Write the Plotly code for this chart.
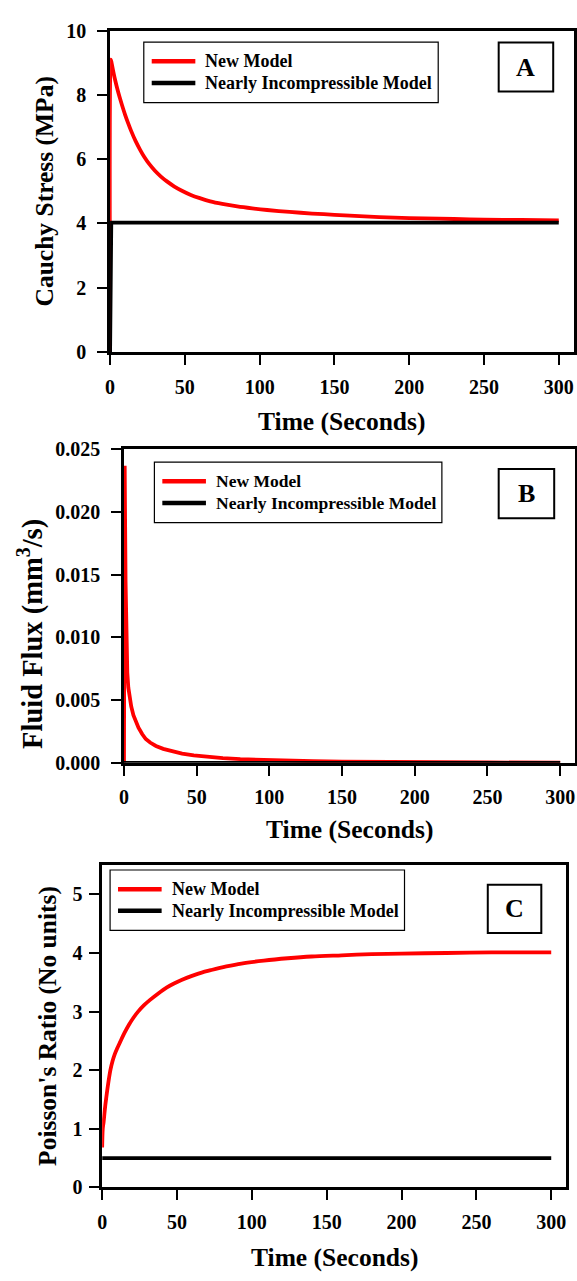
import plotly.graph_objects as go

# ---------------- data ----------------
time_a_new = [0, 0.5, 1, 1.5, 2.5, 3.5, 5, 6.5, 8, 10, 12, 14, 17, 20, 23, 26, 30, 34, 38, 43, 48, 54, 60,
              67, 75, 85, 95, 105, 120, 135, 150, 170, 190, 210, 230, 250, 275, 300]
stress_new = [0, 9.1, 9.0, 8.88, 8.65, 8.44, 8.16, 7.91, 7.68, 7.39, 7.13, 6.89, 6.57, 6.3, 6.06, 5.86, 5.64,
              5.46, 5.31, 5.15, 5.02, 4.89, 4.79, 4.69, 4.61, 4.53, 4.47, 4.42, 4.36, 4.31, 4.27, 4.22, 4.18,
              4.16, 4.14, 4.12, 4.11, 4.1]
time_a_ni = [0, 0.8, 300]
stress_ni = [0, 4.03, 4.03]

time_b_new = [0, 0.5, 0.8, 1.1, 1.4, 1.8, 2.3, 3, 4, 5, 6.5, 8, 10, 12.5, 15, 18, 22, 27, 33, 40, 48, 57, 68,
              80, 95, 110, 130, 150, 175, 200, 250, 300]
flux_new = [0, 0.0237, 0.019, 0.0145, 0.0112, 0.0088, 0.0072, 0.006, 0.0051, 0.0045, 0.0038, 0.0033, 0.0028,
            0.0023, 0.0019, 0.00162, 0.00135, 0.00112, 0.00092, 0.00074, 0.00059, 0.00047, 0.00037, 0.00029,
            0.00022, 0.00017, 0.00013, 0.0001, 0.00007, 0.00005, 0.00003, 0.00002]
time_b_ni = [0, 300]
flux_ni = [0, 0]

time_c_new = [0, 0.4, 1, 1.8, 2.7, 3.8, 5.5, 7, 8.5, 10, 12, 15, 18, 21, 24, 28, 32, 37.5, 43, 48, 53, 60, 67,
              73, 83, 93, 108, 124, 140, 160, 180, 200, 230, 260, 300]
poisson_new = [0.68, 1.0, 1.12, 1.33, 1.52, 1.73, 2.0, 2.16, 2.28, 2.37, 2.48, 2.64, 2.78, 2.9, 3.0, 3.11, 3.2,
               3.31, 3.41, 3.48, 3.54, 3.61, 3.67, 3.71, 3.77, 3.82, 3.87, 3.91, 3.94, 3.96, 3.98, 3.99, 4.0,
               4.01, 4.01]
time_c_ni = [0, 300]
poisson_ni = [0.5, 0.5]

series_names = ["New Model", "Nearly Incompressible Model"]
series_colors = ["#ff0000", "#000000"]
x_ticks = [0, 50, 100, 150, 200, 250, 300]
y_ticks_a = [0, 2, 4, 6, 8, 10]
y_ticks_b = [0, 0.005, 0.010, 0.015, 0.020, 0.025]
y_ticks_c = [0, 1, 2, 3, 4, 5]
panel_letters = ["A", "B", "C"]
x_title = "Time (Seconds)"
y_titles = ["Cauchy Stress (MPa)", "Fluid Flux (mm<sup>3</sup>/s)", "Poisson's Ratio (No units)"]

# ---------------- layout helpers ----------------
W, H = 577, 1281
FONT = "Liberation Serif"


def fx(x):
    return x / W


def fy(y):
    return 1 - y / H


def bold(vals, fmt):
    return ["<b>" + format(v, fmt) + "</b>" for v in vals]


fig = go.Figure()

panels = [
    dict(new=(time_a_new, stress_new), ni=(time_a_ni, stress_ni), l=106, r=573.7, t=20, b=347,
         yr=[0, 10], yt=y_ticks_a, fmt="g", stand=7, leg=(140, 31.7, 297, 18), box=(498, 32, 553, 82),
         ytx=39.5, yty=183.5, ytfs=25.5, xt_y=418, xstand=5, shape="spline"),
    dict(new=(time_b_new, flux_new), ni=(time_b_ni, flux_ni), l=120, r=574.7, t=446, b=765,
         yr=[0, 0.025], yt=y_ticks_b, fmt=".3f", stand=7, leg=(150.7, 459, 290, 17.5),
         box=(498, 466, 554, 516), ytx=25, yty=634, ytfs=28.5, xt_y=833, xstand=4, shape="linear"),
    dict(new=(time_c_new, poisson_new), ni=(time_c_ni, poisson_ni), l=98, r=566.1, t=869, b=1197,
         yr=[0, 5.5], yt=y_ticks_c, fmt="g", stand=3, leg=(106, 874, 297, 18), box=(487, 889, 541, 938),
         ytx=43, yty=1033, ytfs=25.5, xt_y=1268, xstand=5, shape="spline"),
]

shapes = []
annotations = []
for i, p in enumerate(panels):
    xa = "x" if i == 0 else f"x{i+1}"
    ya = "y" if i == 0 else f"y{i+1}"
    xkey = "xaxis" if i == 0 else f"xaxis{i+1}"
    ykey = "yaxis" if i == 0 else f"yaxis{i+1}"
    fig.add_trace(go.Scatter(x=p["new"][0], y=p["new"][1], mode="lines", name=series_names[0],
                             line=dict(color=series_colors[0], width=3.8, shape=p["shape"], smoothing=0.8),
                             xaxis=xa, yaxis=ya, showlegend=False))
    fig.add_trace(go.Scatter(x=p["ni"][0], y=p["ni"][1], mode="lines", name=series_names[1],
                             line=dict(color=series_colors[1], width=3.8), xaxis=xa, yaxis=ya,
                             showlegend=False))
    common = dict(showline=True, linecolor="black", linewidth=2.5, mirror=True, ticks="outside",
                  ticklen=10, tickwidth=2, tickcolor="black", showgrid=False, zeroline=False,
                  tickfont=dict(family=FONT, size=20, color="black", weight=700))
    fig.update_layout(**{
        xkey: dict(common, domain=[fx(p["l"]), fx(p["r"])], range=[0, 310], tickvals=x_ticks,
                   ticktext=bold(x_ticks, "g"), anchor=ya, ticklabelstandoff=p["xstand"]),
        ykey: dict(common, domain=[fy(p["b"]), fy(p["t"])], range=p["yr"], tickvals=p["yt"],
                   ticktext=bold(p["yt"], p["fmt"]), anchor=xa, ticklabelstandoff=p["stand"]),
    })
    # axis titles
    annotations.append(dict(x=fx((p["l"] + p["r"]) / 2), y=fy(p["xt_y"]), xref="paper", yref="paper",
                            text="<b>" + x_title + "</b>", showarrow=False, xanchor="center",
                            yanchor="middle", font=dict(family=FONT, size=25.5, color="black")))
    annotations.append(dict(x=fx(p["ytx"]), y=fy(p["yty"]), xref="paper", yref="paper",
                            text="<b>" + y_titles[i] + "</b>", showarrow=False, textangle=-90,
                            xanchor="center", yanchor="middle",
                            font=dict(family=FONT, size=p["ytfs"], color="black")))
    # legend box
    lx, ly, lw, lfs = p["leg"]
    shapes.append(dict(type="rect", xref="paper", yref="paper", x0=fx(lx), x1=fx(lx + lw),
                       y0=fy(ly), y1=fy(ly + 61.5), line=dict(color="black", width=1.2),
                       fillcolor="white", layer="above"))
    for k in range(2):
        yy = ly + 19.5 + 22 * k
        shapes.append(dict(type="line", xref="paper", yref="paper", x0=fx(lx + 8), x1=fx(lx + 52),
                           y0=fy(yy), y1=fy(yy), line=dict(color=series_colors[k], width=4.5),
                           layer="above"))
        annotations.append(dict(x=fx(lx + 60), y=fy(yy), xref="paper", yref="paper",
                                text="<b>" + series_names[k] + "</b>", showarrow=False, xanchor="left",
                                yanchor="middle", font=dict(family=FONT, size=lfs, color="black")))
    # panel letter box
    bx0, by0, bx1, by1 = p["box"]
    shapes.append(dict(type="rect", xref="paper", yref="paper", x0=fx(bx0), x1=fx(bx1),
                       y0=fy(by0), y1=fy(by1), line=dict(color="black", width=2),
                       fillcolor="white", layer="above"))
    annotations.append(dict(x=fx((bx0 + bx1) / 2), y=fy((by0 + by1) / 2), xref="paper", yref="paper",
                            text="<b>" + panel_letters[i] + "</b>", showarrow=False, xanchor="center",
                            yanchor="middle", font=dict(family=FONT, size=26, color="black")))

fig.update_layout(width=W, height=H, margin=dict(l=0, r=0, t=0, b=0),
                  paper_bgcolor="white", plot_bgcolor="white", showlegend=False,
                  shapes=shapes, annotations=annotations)

fig.write_html("out.html")
